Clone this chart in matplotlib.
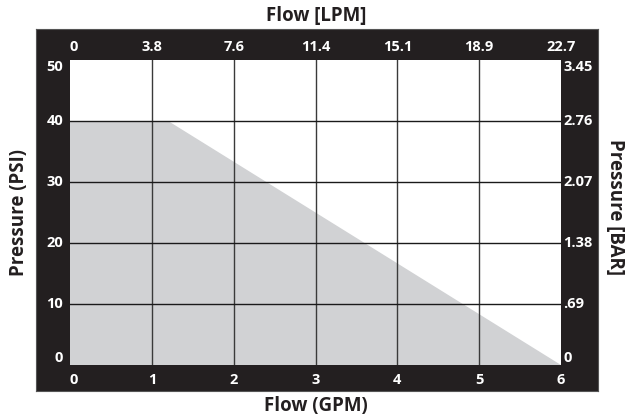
import matplotlib
matplotlib.use("Agg")
import matplotlib.pyplot as plt

# Data
gpm_ticks = [0, 1, 2, 3, 4, 5, 6]
lpm_labels = ["0", "3.8", "7.6", "11.4", "15.1", "18.9", "22.7"]
psi_ticks = [0, 10, 20, 30, 40, 50]
bar_labels = ["0", ".69", "1.38", "2.07", "2.76", "3.45"]
curve_flow = [0, 0, 1.2, 6]
curve_psi = [0, 40, 40, 0]

W, H = 625, 419
fig = plt.figure(figsize=(W / 100, H / 100), dpi=100)
plt.rcParams['font.family'] = ['Open Sans', 'DejaVu Sans']

frame_col = '#231f20'
# black frame drawn in a background axes
bg = fig.add_axes([36 / W, 1 - 391 / H, (598 - 36) / W, (391 - 29) / H], zorder=-5)
bg.set_facecolor(frame_col)
bg.set_xticks([])
bg.set_yticks([])
for s in bg.spines.values():
    s.set_color('#555555')
    s.set_linewidth(0.8)

L, R, T, B = 70, 561, 60, 365
ax = fig.add_axes([L / W, 1 - B / H, (R - L) / W, (B - T) / H], zorder=1)
ax.set_facecolor('white')
ax.fill(curve_flow, curve_psi, color='#d1d2d4', lw=0, zorder=1)
ax.set_xlim(0, 6)
ax.set_ylim(0, 50)
for x in gpm_ticks[1:-1]:
    ax.axvline(x, color='#3a3a3a', lw=1.0, zorder=2)
for y in psi_ticks[1:-1]:
    ax.axhline(y, color='#1a1a1a', lw=1.0, zorder=2)
for s in ax.spines.values():
    s.set_visible(False)
ax.set_xticks([])
ax.set_yticks([])

fs = 10.5
kw = dict(color='white', fontsize=fs, fontweight='bold', annotation_clip=False)
# bottom labels (GPM)
for i, x in enumerate(gpm_ticks):
    ha = 'left' if i == 0 else 'center'
    ax.annotate(str(x), (x, 0), xytext=(0, -10.5), textcoords='offset points',
                ha=ha, va='center', **kw)
# top labels (LPM)
for i, (x, lab) in enumerate(zip(gpm_ticks, lpm_labels)):
    ha = 'left' if i == 0 else 'center'
    ax.annotate(lab, (x, 50), xytext=(0, 9.4), textcoords='offset points',
                ha=ha, va='center', **kw)
# left labels (PSI)
for y in psi_ticks:
    va = 'top' if y == 50 else ('bottom' if y == 0 else 'center')
    ax.annotate(str(y), (0, y), xytext=(-5, 0), textcoords='offset points',
                ha='right', va=va, **kw)
# right labels (BAR)
for y, lab in zip(psi_ticks, bar_labels):
    va = 'top' if y == 50 else ('bottom' if y == 0 else 'center')
    ax.annotate(lab, (6, y), xytext=(1.5, 0), textcoords='offset points',
                ha='left', va=va, **kw)

tkw = dict(color='#231f20', fontsize=13.5, fontweight='bold')
fig.text(316 / W, 1 - 16 / H, "Flow [LPM]", ha='center', va='center', **tkw)
fig.text(316 / W, 1 - 406 / H, "Flow (GPM)", ha='center', va='center', **tkw)
fig.text(19 / W, 1 - 212 / H, "Pressure (PSI)", ha='center', va='center', rotation=90, **tkw)
fig.text(615 / W, 1 - 207 / H, "Pressure [BAR]", ha='center', va='center', rotation=270, **tkw)

fig.savefig("out.png", dpi=100)
